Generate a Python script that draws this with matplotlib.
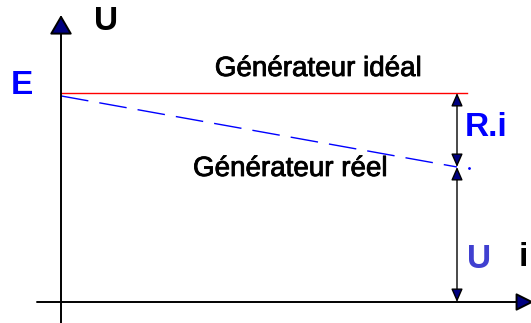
import numpy as np
import matplotlib.pyplot as plt
import matplotlib.patheffects as pe

# courant (i) et tension (U), normalises : i0 = 1, E = 1
i_ideal = [0.0, 1.025]
U_ideal = [1.0, 1.0]
i_reel = [0.0, 1.0]
U_reel = [0.986, 0.646]
i0 = 1.0

# pixels -> donnees (origine a (61, 302), 396 px par unite de i, 209 px par unite de U)
def px(x):
    return (x - 61) / 396

def py(y):
    return (302 - y) / 209

fig = plt.figure(figsize=(5.31, 3.23), dpi=100)
ax = fig.add_axes([0, 0, 1, 1])
ax.set_xlim(px(0), px(531))
ax.set_ylim(py(323), py(0))
ax.axis("off")

plt.rcParams['font.family'] = ['Liberation Sans', 'DejaVu Sans']

navy = '#000080'

# axes avec fleches
ax.annotate('', xy=(0, py(15)), xytext=(0, py(323)), annotation_clip=False,
            arrowprops=dict(arrowstyle='-|>,head_length=1.2,head_width=0.7',
                            mutation_scale=10, ec='black', fc=navy, lw=1.4,
                            shrinkA=0, shrinkB=0))
ax.annotate('', xy=(px(534), 0), xytext=(px(37), 0), annotation_clip=False,
            arrowprops=dict(arrowstyle='-|>,head_length=1.1,head_width=0.55',
                            mutation_scale=10, ec='black', fc=navy, lw=1.4,
                            shrinkA=0, shrinkB=0))

# caracteristiques
ax.plot(i_ideal, U_ideal, color='#ff0000', lw=1)
ax.plot(i_reel, U_reel, color='#0000ff', lw=1, linestyle=(0, (20, 8)))
ax.plot(px(469), py(168), marker='.', ms=2, color='#0000ff')

# fleches R.i et U
ax.annotate('', xy=(i0, U_ideal[1]), xytext=(i0, U_reel[1]),
            arrowprops=dict(arrowstyle='<|-|>,head_length=0.8,head_width=0.35',
                            mutation_scale=10, ec='black', fc=navy, lw=1,
                            shrinkA=0, shrinkB=0))
ax.annotate('', xy=(i0, U_reel[1]), xytext=(i0, 0),
            arrowprops=dict(arrowstyle='<|-|>,head_length=0.8,head_width=0.35',
                            mutation_scale=10, ec='black', fc=navy, lw=1,
                            shrinkA=0, shrinkB=0))

# textes
big = dict(fontsize=24, fontweight='bold', ha='left', va='center')
ax.text(px(94), py(21), 'U', color='black', **big)
ax.text(px(11), py(86), 'E', color='#0000ff', **big)
ax.text(px(465), py(128), 'R.i', color='#0000ff', **big)
ax.text(px(467), py(259), 'U', color='#4040d0', **big)
ax.text(px(519), py(258), 'i', color='black', **big)

thick = [pe.withStroke(linewidth=0.6, foreground='black')]
ax.text(px(318), py(69), 'Générateur idéal', fontsize=20, color='black',
        ha='center', va='center', path_effects=thick)
ax.text(px(290), py(169), 'Générateur réel', fontsize=20, color='black',
        ha='center', va='center', path_effects=thick)

fig.savefig('out.png', dpi=100)
